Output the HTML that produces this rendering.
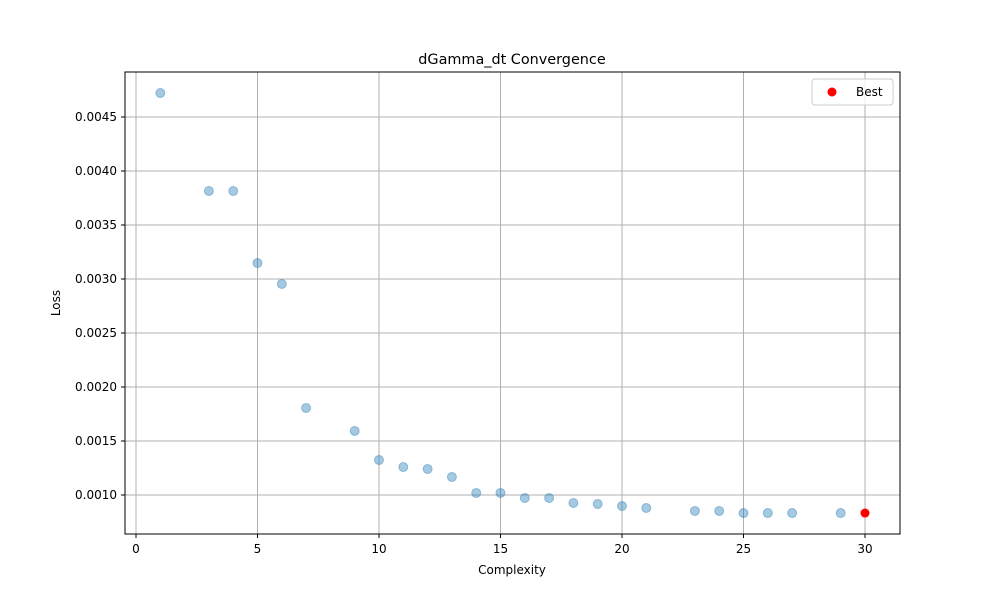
<!DOCTYPE html>
<html><head><meta charset="utf-8"><style>
body{margin:0;background:#fff;font-family:"Liberation Sans","DejaVu Sans",sans-serif;}
svg text{font-family:"DejaVu Sans","Liberation Sans",sans-serif;font-size:12px;fill:#000}
</style></head><body>
<svg id="chart" width="1000" height="600" xmlns="http://www.w3.org/2000/svg">
<rect width="1000" height="600" fill="#fff"/>
<g id="grid" shape-rendering="crispEdges"></g>
<g id="pts"></g>
<rect x="125" y="72" width="775" height="462" fill="none" stroke="#000" stroke-width="1" shape-rendering="crispEdges"/>
<g id="xt"></g><g id="yt"></g>
<text x="512" y="64" text-anchor="middle" style="font-size:14.4px">dGamma_dt Convergence</text>
<text x="512" y="574" text-anchor="middle">Complexity</text>
<text x="60" y="303" text-anchor="middle" transform="rotate(-90 60 303)">Loss</text>
<g>
<rect x="812" y="79" width="81" height="26" rx="3" fill="#fff" fill-opacity="0.8" stroke="#ccc"/>
<circle cx="832" cy="92" r="4.5" fill="red"/>
<text x="856" y="96">Best</text>
</g>
</svg>
<script>
const complexity=[1,3,4,5,6,7,9,10,11,12,13,14,15,16,17,18,19,20,21,23,24,25,26,27,29];
const loss=[0.004722,0.003815,0.003815,0.003148,0.002954,0.001806,0.001593,0.001324,0.001259,0.001241,0.001167,0.001019,0.001019,0.000972,0.000972,0.000926,0.000917,0.000898,0.00088,0.000852,0.000852,0.000833,0.000833,0.000833,0.000833];
const bestX=[30];
const bestY=[0.000833];
const xTicks=[0,5,10,15,20,25,30];
const yTicks=[0.0010,0.0015,0.0020,0.0025,0.0030,0.0035,0.0040,0.0045];
const ns="http://www.w3.org/2000/svg";
function sx(v){return 136+(v-0)*24.3;}
function sy(v){return 495-(v-0.0010)/0.0005*54;}
function mk(t,a,p){const e=document.createElementNS(ns,t);for(const k in a)e.setAttribute(k,a[k]);document.getElementById(p).appendChild(e);return e;}
xTicks.forEach(v=>{const x=sx(v);
 const g=mk('line',{x1:x,x2:x,y1:72,y2:534,stroke:'#b0b0b0','stroke-width':1},'grid');
 
 
 mk('line',{x1:x,x2:x,y1:534,y2:538,stroke:'#000'},'xt');
 const t=mk('text',{x:x,y:553,'text-anchor':'middle'},'xt');t.textContent=v;
 
 });
yTicks.forEach(v=>{const y=sy(v);
 const g=mk('line',{x1:125,x2:900,y1:y,y2:y,stroke:'#b0b0b0','stroke-width':1},'grid');
 
 
 mk('line',{x1:121,x2:125,y1:y,y2:y,stroke:'#000'},'yt');
 const t=mk('text',{x:117,y:y+4,'text-anchor':'end'},'yt');t.textContent=v.toFixed(4);
 
 });
complexity.forEach((c,i)=>{const p=mk('circle',{cx:sx(c),cy:sy(loss[i]),r:4.5,fill:'#1f77b4','fill-opacity':0.4,stroke:'#1f77b4','stroke-opacity':0.4},'pts');
 
 });
bestX.forEach((c,i)=>{const p=mk('circle',{cx:sx(c),cy:sy(bestY[i]),r:4.5,fill:'red'},'pts');
 
 });
</script>
</body></html>
